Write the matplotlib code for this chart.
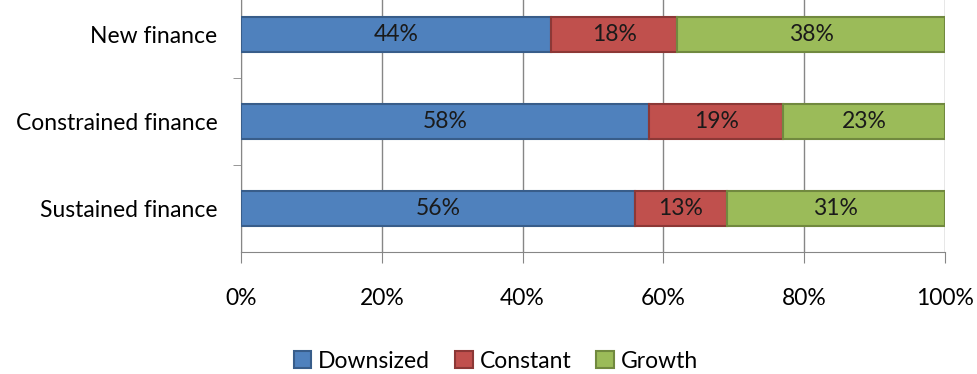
import numpy as np
import matplotlib.pyplot as plt

plt.rcParams['font.family'] = ['Lato', 'DejaVu Sans']

# finance groups, bottom to top
categories = ['Sustained finance', 'Constrained finance', 'New finance']
downsized = [56, 58, 44]
constant = [13, 19, 18]
growth = [31, 23, 38]
xticks = [0, 20, 40, 60, 80, 100]

series = [
    ('Downsized', downsized, '#4F81BD', '#385D8A'),
    ('Constant', constant, '#C0504D', '#8C3836'),
    ('Growth', growth, '#9BBB59', '#71893F'),
]

fig = plt.figure(figsize=(9.78, 3.74), dpi=100)
ax = fig.add_axes([241 / 978, 122 / 374, 704 / 978, 261 / 374])

y = np.arange(len(categories))
left = np.zeros(len(categories))
for name, vals, color, edge in series:
    vals = np.array(vals, dtype=float)
    bars = ax.barh(y, vals, left=left, height=0.41, color=color,
                   edgecolor=edge, linewidth=1.5, label=name, zorder=3)
    for b, v in zip(bars, vals):
        ax.text(b.get_x() + b.get_width() / 2, b.get_y() + b.get_height() / 2,
                f'{int(v)}%', ha='center', va='center', fontsize=16.5,
                color='#1a1a1a', zorder=4)
    left += vals

ax.set_xlim(0, 100)
ax.set_ylim(-0.5, 2.5)
ax.set_xticks(xticks)
ax.set_xticklabels([f'{t}%' for t in xticks], fontsize=16.5)
ax.set_yticks(y)
ax.set_yticklabels(categories, fontsize=16.5)
ax.set_yticks([0.5, 1.5], minor=True)
ax.tick_params(axis='y', which='major', length=0, pad=17)
ax.tick_params(axis='y', which='minor', length=6, color='#868686', direction='out')
ax.tick_params(axis='x', length=8, color='#868686', direction='out', pad=18)

ax.grid(axis='x', color='#868686', linewidth=1, zorder=0)
for s in ['top', 'right']:
    ax.spines[s].set_visible(False)
for s in ['left', 'bottom']:
    ax.spines[s].set_color('#868686')

fig.legend(loc='center', bbox_to_anchor=(496 / 978, 1 - 361 / 374), ncol=3,
           frameon=False, fontsize=16.5, handlelength=0.75, handleheight=0.75,
           handletextpad=0.3, columnspacing=1.1)

fig.savefig('out.png', dpi=100)
